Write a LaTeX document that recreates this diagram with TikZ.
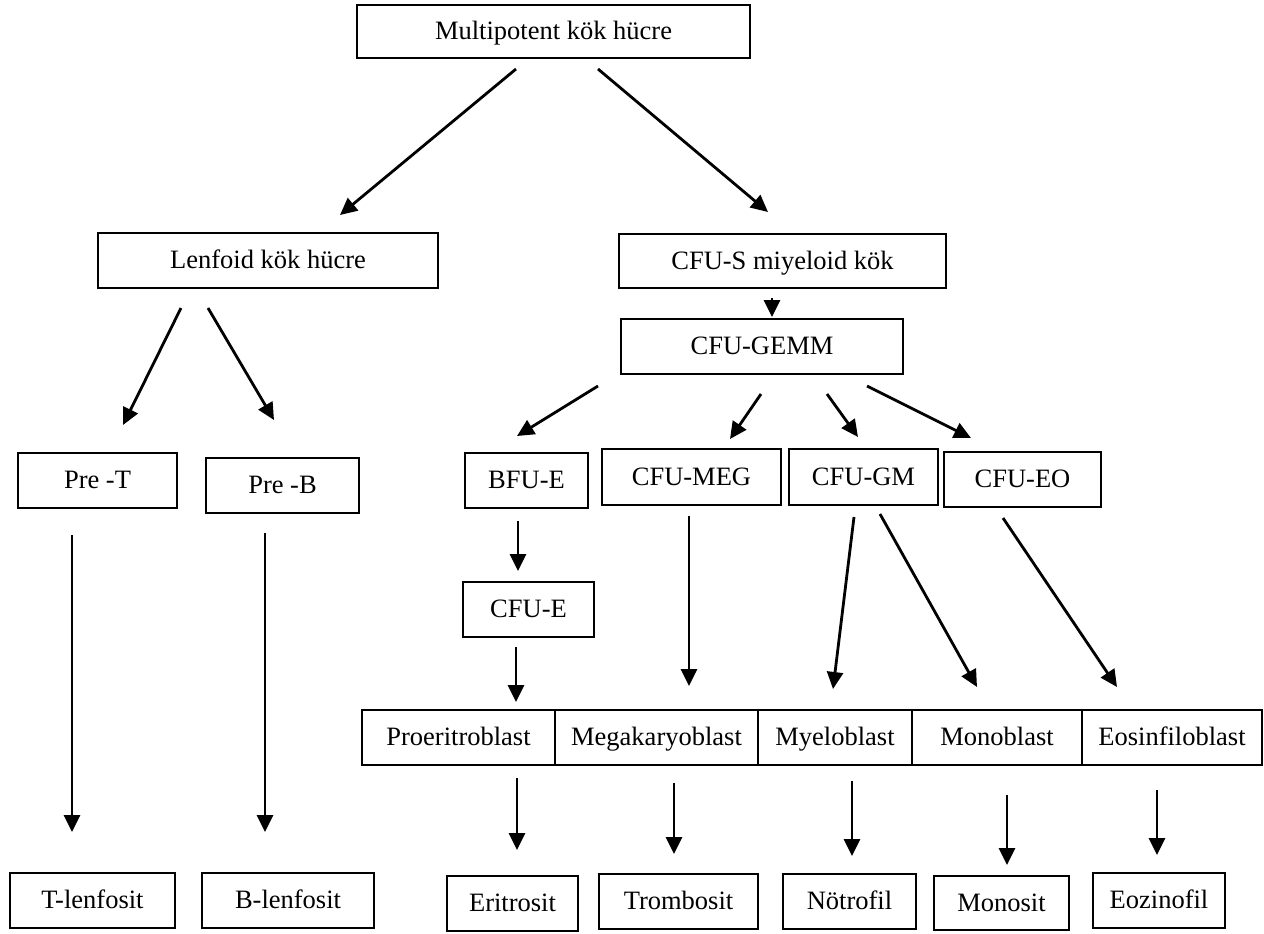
\documentclass[tikz,border=0pt]{standalone}
\usepackage{fontspec}
\setmainfont{Liberation Serif}
\usetikzlibrary{arrows.meta}
\tikzset{
  box/.style={draw, line width=1.4pt, inner sep=0pt, outer sep=0pt, fill=white,
    font=\fontsize{13.25}{16}\selectfont, text height=0.8em, text depth=0pt},
  arr/.style={line width=1.4pt, -{Triangle[length=8.5pt,width=8pt]}}
}
% name, x1, y1, x2, y2, text (pixel coordinates, y downward)
\newcommand\mybox[6]{%
  \node[box, minimum width={(#4-#2)*0.5pt}, minimum height={(#5-#3)*0.5pt}]
    (#1) at ({(#2+#4)/2},{(#3+#5)/2}) {#6};}
\newcommand\myarrow[5]{%
  \coordinate (#1s) at (#2,#3);
  \coordinate (#1e) at (#4,#5);
  \draw[arr] (#1s) -- (#1e);}
\begin{document}
\begin{tikzpicture}[x=0.5pt,y=-0.5pt]
\useasboundingbox (0,0) rectangle (1264,933);
% boxes
\mybox{mp}{357}{5}{750}{58}{Multipotent kök hücre}
\mybox{lk}{98}{233}{438}{288}{Lenfoid kök hücre}
\mybox{cfus}{619}{234}{946}{288}{CFU-S miyeloid kök}
\mybox{gemm}{621}{319}{903}{374}{CFU-GEMM}
\mybox{pret}{18}{453}{177}{508}{Pre -T}
\mybox{preb}{206}{458}{359}{513}{Pre -B}
\mybox{bfue}{465}{453}{588}{508}{BFU-E}
\mybox{meg}{602}{449}{781}{505}{CFU-MEG}
\mybox{gm}{789}{449}{938}{505}{CFU-GM}
\mybox{eo}{944}{452}{1101}{507}{CFU-EO}
\mybox{cfue}{463}{582}{594}{637}{CFU-E}
\mybox{proe}{362}{710}{555}{765}{Proeritroblast}
\mybox{mega}{555}{710}{758}{765}{Megakaryoblast}
\mybox{myelo}{758}{710}{912}{765}{Myeloblast}
\mybox{monob}{912}{710}{1082}{765}{Monoblast}
\mybox{eosb}{1082}{710}{1262}{765}{Eosinfiloblast}
\mybox{tl}{10}{873}{175}{928}{T-lenfosit}
\mybox{bl}{202}{873}{374}{928}{B-lenfosit}
\mybox{eri}{447}{876}{578}{931}{Eritrosit}
\mybox{trom}{599}{874}{758}{929}{Trombosit}
\mybox{not}{783}{874}{916}{929}{Nötrofil}
\mybox{mons}{934}{876}{1069}{930}{Monosit}
\mybox{eoz}{1093}{873}{1225}{928}{Eozinofil}
% arrows
\myarrow{a1}{516}{69}{340}{215}
\myarrow{a2}{598}{69}{768}{212}
\myarrow{a3}{181}{308}{123}{425}
\myarrow{a4}{208}{308}{274}{420}
\myarrow{a5}{772}{298}{772}{317}
\myarrow{a6}{598}{386}{517}{436}
\myarrow{a7}{761}{394}{730}{439}
\myarrow{a8}{827}{394}{858}{437}
\myarrow{a9}{867}{386}{971}{438}
\myarrow{a10}{518}{521}{518}{571}
\myarrow{a11}{516}{647}{516}{702}
\myarrow{a12}{689}{516}{689}{686}
\myarrow{a13}{854}{517}{833}{689}
\myarrow{a14}{880}{514}{977}{687}
\myarrow{a15}{1003}{518}{1117}{687}
\myarrow{a16}{72}{535}{72}{832}
\myarrow{a17}{265}{533}{265}{832}
\myarrow{a18}{517}{778}{517}{850}
\myarrow{a19}{674}{783}{674}{854}
\myarrow{a20}{852}{781}{852}{856}
\myarrow{a21}{1007}{795}{1007}{865}
\myarrow{a22}{1157}{790}{1157}{855}
\end{tikzpicture}
\end{document}
